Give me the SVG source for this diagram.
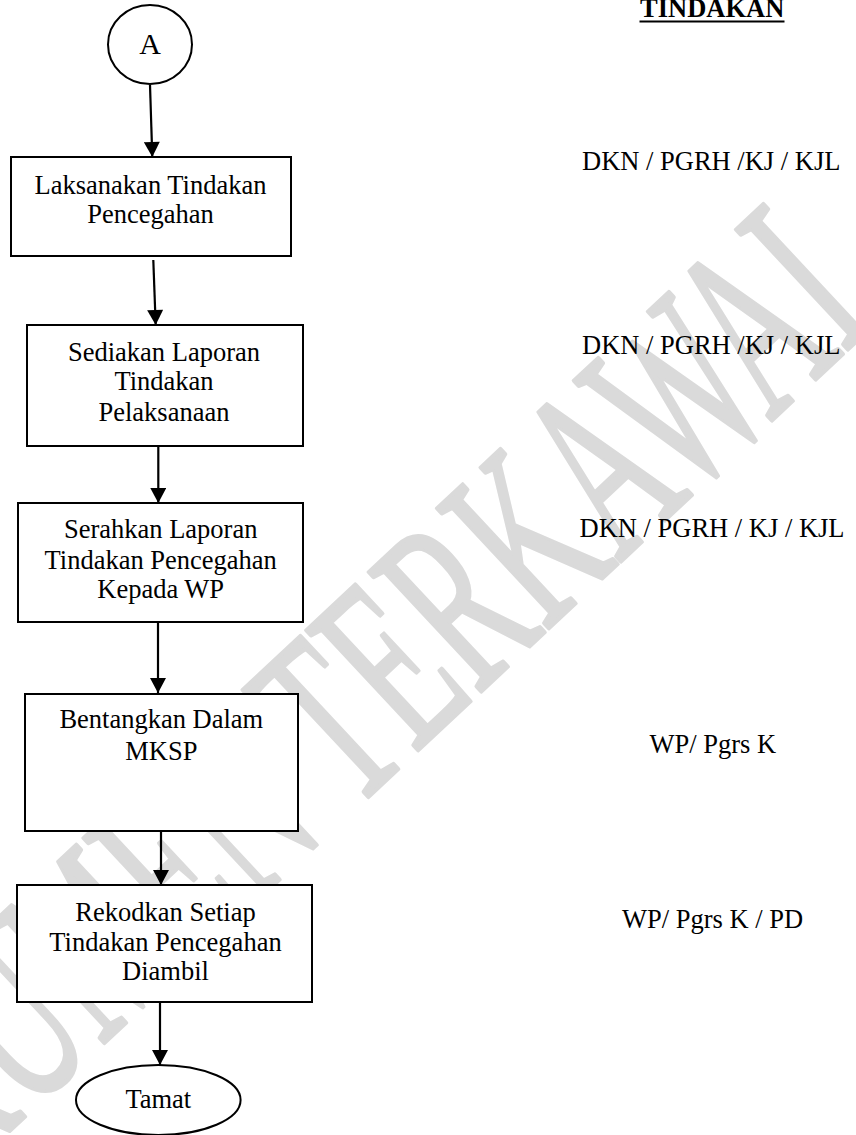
<svg xmlns="http://www.w3.org/2000/svg" width="856" height="1135" viewBox="0 0 856 1135">
<style>
text{font-family:"Liberation Serif","Times New Roman",serif;font-size:26.5px;fill:#000}
.c{text-anchor:middle}
.node rect,.node ellipse{fill:#fff;stroke:#000;stroke-width:2}
.wm{font-size:250px;fill:#dadada;stroke:#dadada;stroke-width:3.5px;stroke-linejoin:round;vector-effect:non-scaling-stroke}
#connectors line{stroke:#000;stroke-width:2.2}
</style>
<defs>
<marker id="ah" markerUnits="userSpaceOnUse" markerWidth="16" markerHeight="16" viewBox="0 0 15 16" refX="15" refY="8" orient="auto">
<path d="M0,0 L15,8 L0,16 z" fill="#000"/>
</marker>
</defs>
<rect width="856" height="1135" fill="#fff"/>
<g id="watermark">
<text class="wm" transform="translate(-195,1322) rotate(-43) scale(0.56,1)">DOKUMEN TERKAWAL</text>
</g>
<g id="connectors">
<line x1="150" y1="85" x2="152.3" y2="157" marker-end="url(#ah)"/>
<line x1="153.3" y1="260" x2="155.7" y2="325" marker-end="url(#ah)"/>
<line x1="158.3" y1="447" x2="158.3" y2="503" marker-end="url(#ah)"/>
<line x1="158" y1="622" x2="158" y2="693" marker-end="url(#ah)"/>
<line x1="161" y1="831" x2="161" y2="885" marker-end="url(#ah)"/>
<line x1="160" y1="1002" x2="160" y2="1065" marker-end="url(#ah)"/>
</g>
<g id="nodeA" class="node">
<ellipse cx="150" cy="44.5" rx="42" ry="39.5"/>
<text class="c" x="150" y="54" style="font-size:30px">A</text>
</g>
<g id="node1" class="node">
<rect x="11" y="157" width="280" height="99"/>
<text class="c" x="150.5" y="194">Laksanakan Tindakan</text>
<text class="c" x="150.5" y="223.3">Pencegahan</text>
</g>
<g id="node2" class="node">
<rect x="27" y="325" width="276" height="121"/>
<text class="c" x="164" y="361">Sediakan Laporan</text>
<text class="c" x="164" y="390">Tindakan</text>
<text class="c" x="164" y="420.7">Pelaksanaan</text>
</g>
<g id="node3" class="node">
<rect x="18" y="503" width="285" height="119"/>
<text class="c" x="160.7" y="538.3">Serahkan Laporan</text>
<text class="c" x="160.7" y="569.3">Tindakan Pencegahan</text>
<text class="c" x="160.7" y="598.3">Kepada WP</text>
</g>
<g id="node4" class="node">
<rect x="25" y="694" width="273" height="137"/>
<text class="c" x="161.3" y="728.3">Bentangkan Dalam</text>
<text class="c" x="161.3" y="760">MKSP</text>
</g>
<g id="node5" class="node">
<rect x="17" y="885" width="295" height="117"/>
<text class="c" x="165.5" y="920.7">Rekodkan Setiap</text>
<text class="c" x="165.5" y="950.7">Tindakan Pencegahan</text>
<text class="c" x="165.5" y="980">Diambil</text>
</g>
<g id="nodeEnd" class="node">
<ellipse cx="158.3" cy="1100" rx="82.3" ry="35"/>
<text class="c" x="158.3" y="1108.3">Tamat</text>
</g>
<g id="labels">
<text x="640" y="17.3" style="font-weight:bold">TINDAKAN</text>
<rect x="639.5" y="20.5" width="145" height="2" fill="#000"/>
<text x="582" y="170">DKN / PGRH /KJ / KJL</text>
<text x="582" y="353.5">DKN / PGRH /KJ / KJL</text>
<text x="579.5" y="537.3">DKN / PGRH / KJ / KJL</text>
<text x="649.5" y="753.3">WP/ Pgrs K</text>
<text x="622" y="928.3">WP/ Pgrs K / PD</text>
</g>
</svg>
